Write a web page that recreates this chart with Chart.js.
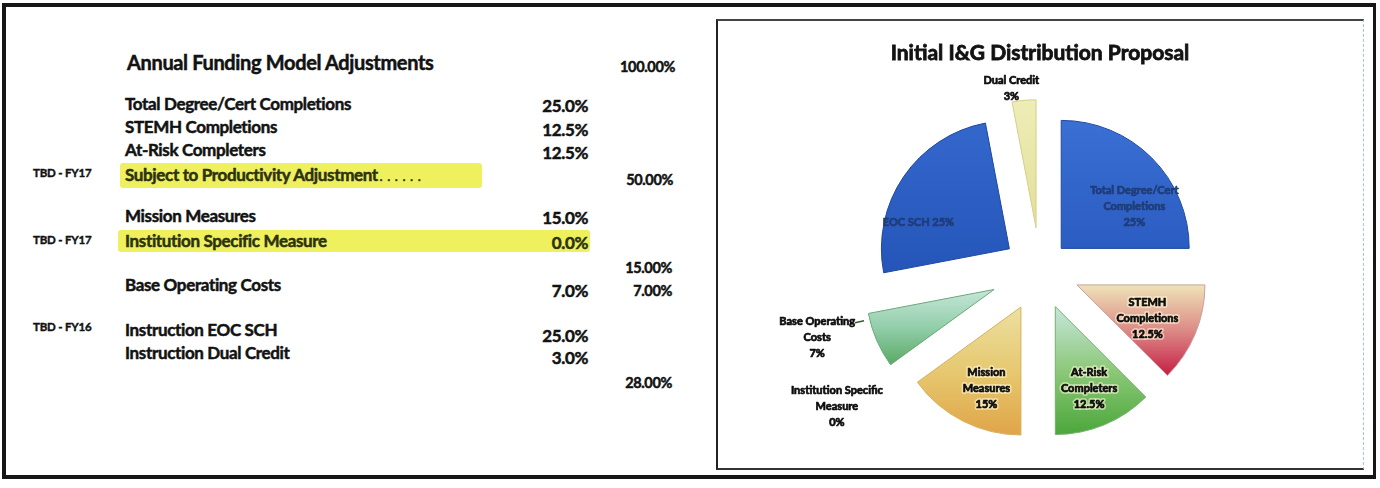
<!DOCTYPE html>
<html>
<head>
<meta charset="utf-8">
<title>Initial I&amp;G Distribution Proposal</title>
<script src="https://cdn.jsdelivr.net/npm/chart.js@4.4.1/dist/chart.umd.min.js"></script>
<style>
  html, body { margin: 0; padding: 0; background: #fff; }
  body {
    width: 1380px; height: 488px; position: relative; overflow: hidden;
    font-family: Lato, "Open Sans", sans-serif; font-weight: 700; color: #121212;
  }
  .frame {
    position: absolute; left: 2px; top: 3px; width: 1367px; height: 468px;
    border: 4px solid #161616; border-right-width: 3px;
  }
  .panel {
    position: absolute; left: 716px; top: 19px; width: 645px; height: 447px;
    border-left: 2px solid #222; border-top: 2px solid #444; border-bottom: 2px solid #333;
    border-right: 1px dashed #9cc9ea;
  }
  .t {
    position: absolute; white-space: nowrap; line-height: 18px; height: 18px;
    font-size: 17px; letter-spacing: -0.35px; -webkit-text-stroke: 0.5px currentColor;
  }
  .num { text-align: right; width: 90px; }
  .tag { font-size: 11.5px; letter-spacing: -0.2px; -webkit-text-stroke: 0.4px currentColor; }
  .head { font-size: 20px; letter-spacing: -0.35px; }
  .mark { position: absolute; background: #eff05e; border-radius: 3px; }
  .hl { color: #2c3210; }
  .dots { font-size: 11px; letter-spacing: 5px; margin-left: 2px; }
  #pie-box { position: absolute; left: 718px; top: 21px; width: 644px; height: 446px; }
</style>
</head>
<body>
<div class="frame"></div>
<div class="panel"></div>

<div class="mark" style="left:120px;top:163px;width:362px;height:25px;"></div>
<div class="mark" style="left:118px;top:230px;width:472px;height:22px;"></div>

<div class="t head" style="left:127px;top:53px;">Annual Funding Model Adjustments</div>
<div class="t num" style="left:585px;top:58px;font-size:14.5px;">100.00%</div>

<div class="t" style="left:125px;top:95px;">Total Degree/Cert Completions</div>
<div class="t num" style="left:498px;top:97px;">25.0%</div>
<div class="t" style="left:125px;top:118px;">STEMH Completions</div>
<div class="t num" style="left:498px;top:121px;">12.5%</div>
<div class="t" style="left:125px;top:141px;">At-Risk Completers</div>
<div class="t num" style="left:498px;top:144px;">12.5%</div>
<div class="t tag" style="left:33px;top:164px;">TBD - FY17</div>
<div class="t hl" style="left:125px;top:166px;">Subject to Productivity Adjustment<span class="dots">......</span></div>
<div class="t num" style="left:583px;top:171px;font-size:14.5px;">50.00%</div>

<div class="t" style="left:125px;top:207px;">Mission Measures</div>
<div class="t num" style="left:498px;top:209px;">15.0%</div>
<div class="t tag" style="left:33px;top:231px;">TBD - FY17</div>
<div class="t hl" style="left:125px;top:232px;">Institution Specific Measure</div>
<div class="t num hl" style="left:498px;top:234px;">0.0%</div>
<div class="t num" style="left:582px;top:259px;font-size:14.5px;">15.00%</div>

<div class="t" style="left:125px;top:276px;">Base Operating Costs</div>
<div class="t num" style="left:498px;top:282px;">7.0%</div>
<div class="t num" style="left:582px;top:282px;font-size:14.5px;">7.00%</div>

<div class="t tag" style="left:33px;top:318px;">TBD - FY16</div>
<div class="t" style="left:125px;top:321px;">Instruction EOC SCH</div>
<div class="t num" style="left:498px;top:327px;">25.0%</div>
<div class="t" style="left:125px;top:344px;">Instruction Dual Credit</div>
<div class="t num" style="left:498px;top:349px;">3.0%</div>
<div class="t num" style="left:582px;top:374px;font-size:14.5px;">28.00%</div>

<div id="pie-box"><canvas id="distChart"></canvas></div>

<script>
// slices run clockwise from 12 o'clock
const sliceNames = [
  "Total Degree/Cert Completions", "STEMH Completions", "At-Risk Completers",
  "Mission Measures", "Institution Specific Measure", "Base Operating Costs",
  "EOC SCH", "Dual Credit"
];
const sliceShares = [25, 12.5, 12.5, 15, 0, 7, 25, 3];
const sliceCaptions = [
  ["Total Degree/Cert", "Completions"], ["STEMH", "Completions"], ["At-Risk", "Completers"],
  ["Mission", "Measures"], ["Institution Specific", "Measure"], ["Base Operating", "Costs"],
  ["EOC SCH"], ["Dual Credit"]
];

const PIE_R = 128;
const explode = [30, 40, 40, 42, 40, 50, 37, 42];
const sliceColors = [
  ["#3a6fd3", "#2b5cc1"],
  ["#efe3b8", "#dc8a86", "#c41c44"],
  ["#c6e6dc", "#8cc878", "#4aa63a"],
  ["#ece0a0", "#e6c870", "#e0a447"],
  ["#e6d880", "#e6d880"],
  ["#c6e6d8", "#92ceaa", "#58a862"],
  ["#3467cc", "#2555b9"],
  ["#eeedb6", "#e2df9a"]
];
const sliceEdges = ["#1f4aa0", "#c9a0a0", "#78b070", "#d8b060", "#d8c870", "#6aa878", "#1d489e", "#d4d088"];

// label spots: inside ones sit along the mid angle, outside ones at a clock angle
const labelSpots = [
  { frac: 0.66, turn: 15, color: "#1f3d78" },
  { frac: 0.61, turn: 3, color: "#0c0c0c", halo: true },
  { frac: 0.69, turn: 0, color: "#0c0c0c", halo: true },
  { frac: 0.69, turn: -4, color: "#0c0c0c", halo: true },
  { r: 245, clock: 236, color: "#0c0c0c" },
  { r: 233, clock: 253, color: "#0c0c0c", leader: true },
  { frac: 0.74, turn: -18, color: "#1f3d78" },
  { r: 183, clock: 351, color: "#0c0c0c" }
];

const TITLE_FONT = { family: "Lato", size: 21, weight: "bold", lineHeight: 1.2 };
const TITLE_PAD = { top: 20, bottom: 10 };

const total = sliceShares.reduce((a, b) => a + b, 0);

function pct(v) {
  return (v % 1 ? v.toFixed(1) : String(v)) + "%";
}

function sliceFill(context) {
  const chart = context.chart;
  const area = chart.chartArea;
  const i = context.dataIndex;
  const stops = sliceColors[i];
  if (!area || i === undefined) return stops[stops.length - 1];
  const cy = (area.top + area.bottom) / 2;
  const before = sliceShares.slice(0, i).reduce((a, b) => a + b, 0);
  const a0 = -Math.PI / 2 + before / total * 2 * Math.PI;
  const a1 = a0 + sliceShares[i] / total * 2 * Math.PI;
  const ys = [cy, cy + PIE_R * Math.sin(a0), cy + PIE_R * Math.sin(a1)];
  if (a0 < Math.PI / 2 && a1 > Math.PI / 2) ys.push(cy + PIE_R);
  if (a0 < 1.5 * Math.PI && a1 > 1.5 * Math.PI) ys.push(cy - PIE_R);
  const g = chart.ctx.createLinearGradient(0, Math.min(...ys), 0, Math.max(...ys) + 1);
  stops.forEach((c, k) => g.addColorStop(k / (stops.length - 1), c));
  return g;
}

// pulls each slice out along its mid angle, then writes the captions
const explodedPie = {
  id: "explodedPie",
  beforeDatasetDraw(chart, args) {
    const ctx = chart.ctx;
    args.meta.data.forEach((arc, i) => {
      const mid = (arc.startAngle + arc.endAngle) / 2;
      ctx.save();
      ctx.translate(Math.cos(mid) * explode[i], Math.sin(mid) * explode[i]);
      arc.draw(ctx, chart.chartArea);
      ctx.restore();
    });
    return false;
  },
  afterDatasetsDraw(chart) {
    const ctx = chart.ctx;
    const arcs = chart.getDatasetMeta(0).data;
    ctx.save();
    ctx.font = "bold 11px Lato, sans-serif";
    ctx.textAlign = "center";
    ctx.textBaseline = "middle";
    ctx.lineJoin = "round";
    arcs.forEach((arc, i) => {
      const spot = labelSpots[i];
      const lines = sliceCaptions[i].slice();
      if (lines.length === 1 && spot.frac) lines[0] += " " + pct(sliceShares[i]);
      else lines.push(pct(sliceShares[i]));
      let x, y;
      if (spot.frac) {
        const mid = (arc.startAngle + arc.endAngle) / 2;
        const vx = arc.x + Math.cos(mid) * explode[i];
        const vy = arc.y + Math.sin(mid) * explode[i];
        const a = mid + spot.turn * Math.PI / 180;
        x = vx + Math.cos(a) * spot.frac * arc.outerRadius;
        y = vy + Math.sin(a) * spot.frac * arc.outerRadius;
      } else {
        const a = (spot.clock - 90) * Math.PI / 180;
        x = arc.x + Math.cos(a) * spot.r;
        y = arc.y + Math.sin(a) * spot.r;
      }
      const lh = 16;
      const top = y - (lines.length - 1) * lh / 2;
      lines.forEach((s, k) => {
        if (spot.halo) {
          ctx.strokeStyle = "rgba(255,250,215,0.55)";
          ctx.lineWidth = 4;
          ctx.strokeText(s, x, top + k * lh);
        }
        ctx.strokeStyle = spot.color;
        ctx.lineWidth = 0.7;
        ctx.strokeText(s, x, top + k * lh);
        ctx.fillStyle = spot.color;
        ctx.fillText(s, x, top + k * lh);
      });
      if (spot.leader) {
        const w = ctx.measureText(lines[0]).width;
        ctx.strokeStyle = "#3d5a34";
        ctx.lineWidth = 1.5;
        ctx.beginPath();
        ctx.moveTo(x + w / 2, top + 1);
        ctx.lineTo(x + w / 2 + 9, top - 1);
        ctx.stroke();
      }
    });
    ctx.restore();
  },
  afterDraw(chart) {
    // heavier strokes on the title lettering
    const t = chart.titleBlock;
    if (!t) return;
    const ctx = chart.ctx;
    ctx.save();
    ctx.font = TITLE_FONT.weight + " " + TITLE_FONT.size + "px " + TITLE_FONT.family + ", sans-serif";
    ctx.textAlign = "center";
    ctx.textBaseline = "middle";
    ctx.strokeStyle = "#121212";
    ctx.lineWidth = 0.8;
    const y = t.top + TITLE_PAD.top + TITLE_FONT.size * TITLE_FONT.lineHeight / 2;
    ctx.strokeText(t.options.text, (t.left + t.right) / 2, y);
    ctx.restore();
  }
};

new Chart(document.getElementById("distChart"), {
  type: "pie",
  data: {
    labels: sliceNames,
    datasets: [
      {
        data: sliceShares,
        radius: PIE_R,
        backgroundColor: sliceFill,
        borderColor: sliceEdges,
        borderWidth: 1,
      },
    ],
  },
  options: {
    responsive: true,
    maintainAspectRatio: false,
    animation: false,
    layout: { padding: { top: 0, bottom: 4, left: 0, right: 0 } },
    plugins: {
      legend: { display: false },
      tooltip: { enabled: false },
      title: {
        display: true,
        text: "Initial I&G Distribution Proposal",
        color: "#121212",
        font: TITLE_FONT,
        padding: TITLE_PAD,
      },
    },
  },
  plugins: [explodedPie],
});
</script>
</body>
</html>
